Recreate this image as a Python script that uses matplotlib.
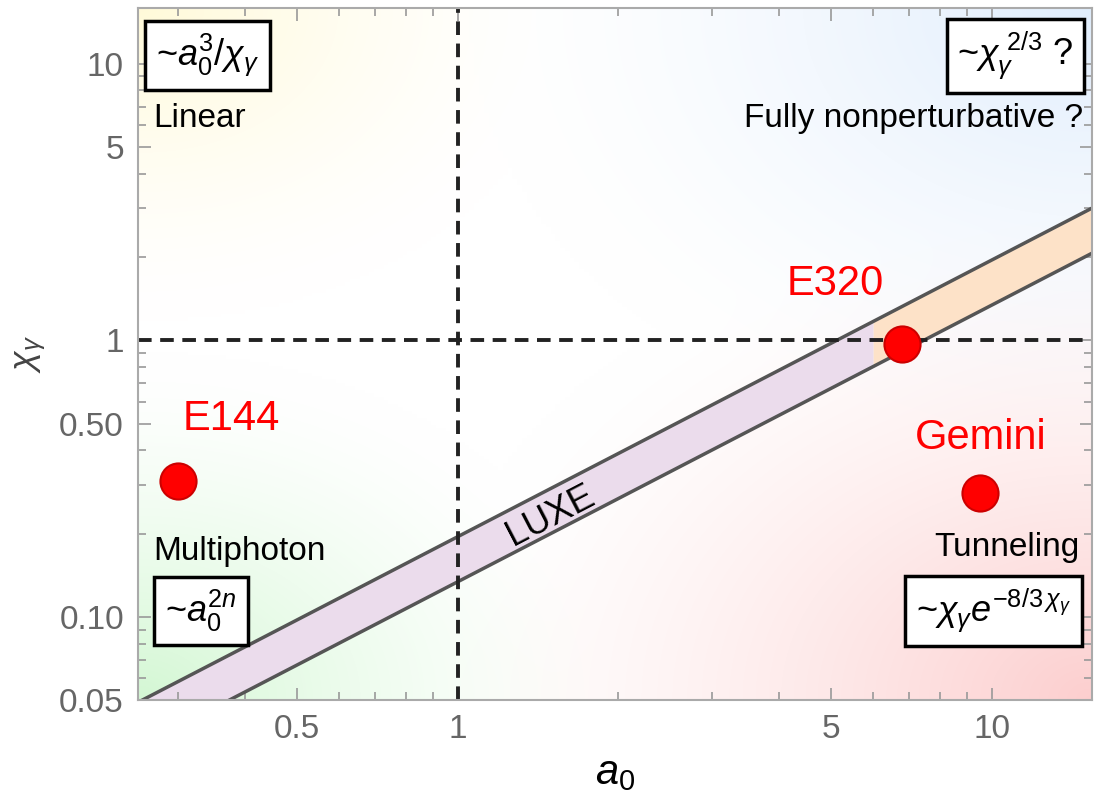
import numpy as np
import matplotlib
matplotlib.use("Agg")
import matplotlib.pyplot as plt
from matplotlib.ticker import FixedLocator, FixedFormatter, LogLocator, NullFormatter

plt.rcParams['font.family'] = ['Liberation Sans', 'DejaVu Sans']
plt.rcParams['mathtext.fontset'] = 'custom'
plt.rcParams['mathtext.rm'] = 'Liberation Sans'
plt.rcParams['mathtext.it'] = 'Liberation Sans:italic'

# experiments (a0, chi_gamma)
exp_names = ["E144", "E320", "Gemini"]
exp_a0 = [0.30, 6.8, 9.5]
exp_chi = [0.31, 0.97, 0.28]

# LUXE band edges
luxe_a0 = [0.2, 6.0, 20.0]
luxe_chi_low = [0.0268, 0.804, 2.68]
luxe_chi_high = [0.039, 1.17, 3.9]
luxe_split = 1  # index where purple -> orange

x_ticks = [0.5, 1, 5, 10]
x_labels = ["0.5", "1", "5", "10"]
y_ticks = [0.05, 0.1, 0.5, 1, 5, 10]
y_labels = ["0.05", "0.10", "0.50", "1", "5", "10"]

fig = plt.figure(figsize=(10.94, 7.94), dpi=100)
ax = fig.add_axes([0.126, 0.118, 0.872, 0.872])
ax.set_xscale("log")
ax.set_yscale("log")
ax.set_xlim(0.252, 15.4)
ax.set_ylim(0.05, 15.9)

# soft corner gradient background
ny, nx = 200, 200
gx, gy = np.meshgrid(np.linspace(0, 1, nx), np.linspace(0, 1, ny))
corners = [((0, 1), (1.0, 0.98, 0.85), 0.45),   # top-left yellow
           ((1, 1), (0.88, 0.93, 0.99), 0.65),  # top-right blue
           ((0, 0), (0.83, 0.97, 0.83), 0.5),   # bottom-left green
           ((1, 0), (0.99, 0.81, 0.81), 0.7)]   # bottom-right red
img = np.ones((ny, nx, 3))
for (cx, cy), col, rad in corners:
    d = np.hypot(gx - cx, gy - cy)
    w = np.clip(1 - d / rad, 0, 1) ** 1.5
    for k in range(3):
        img[:, :, k] -= w * (1 - col[k])
img = np.clip(img, 0, 1)
ax.imshow(img, extent=[0, 1, 0, 1], transform=ax.transAxes, origin="lower",
          aspect="auto", zorder=0, interpolation="bilinear")

# LUXE band
a = np.array(luxe_a0)
lo = np.array(luxe_chi_low)
hi = np.array(luxe_chi_high)
ax.fill_between(a[:luxe_split + 1], lo[:luxe_split + 1], hi[:luxe_split + 1],
                color="#ebdcec", lw=0, zorder=1)
ax.fill_between(a[luxe_split:], lo[luxe_split:], hi[luxe_split:],
                color="#fde2c8", lw=0, zorder=1)
ax.plot(a, lo, color="#555555", lw=2.5, zorder=2)
ax.plot(a, hi, color="#555555", lw=2.5, zorder=2)
ax.text(1.49, 0.232, "LUXE", rotation=27.5, ha="center", va="center",
        fontsize=26, zorder=3)

# dashed regime boundaries
ax.axvline(1, color="#222222", ls=(0, (3.5, 2.2)), lw=2.8, zorder=2)
ax.axhline(1, color="#222222", ls=(0, (3.5, 2.2)), lw=2.8, zorder=2)

# experiment points
ax.plot(exp_a0, exp_chi, "o", ms=26, mfc="#ff0000", mec="#cc0000", mew=1.5,
        zorder=5, ls="none")
offsets = {"E144": (38, 45), "E320": (-48, 43), "Gemini": (1, 40)}
for name, x, y in zip(exp_names, exp_a0, exp_chi):
    ax.annotate(name, (x, y), xytext=offsets[name], textcoords="offset points",
                ha="center", va="center", color="#ff0000", fontsize=30, zorder=6)

# regime labels
box = dict(boxstyle="square,pad=0.3", fc="white", ec="black", lw=2.5)
ax.text(0.073, 0.931, r"~$a_0^3/\chi_\gamma$", transform=ax.transAxes,
        ha="center", va="center", fontsize=26, bbox=box, zorder=4)
ax.text(0.920, 0.931, r"~$\chi_\gamma^{\ 2/3}$ ?", transform=ax.transAxes,
        ha="center", va="center", fontsize=26, bbox=box, zorder=4)
ax.text(0.066, 0.129, r"~$a_0^{2n}$", transform=ax.transAxes,
        ha="center", va="center", fontsize=26, bbox=box, zorder=4)
ax.text(0.897, 0.129, r"~$\chi_\gamma e^{-8/3\,\chi_\gamma}$", transform=ax.transAxes,
        ha="center", va="center", fontsize=26, bbox=box, zorder=4)

ax.text(0.016, 0.841, "Linear", transform=ax.transAxes, ha="left", va="center",
        fontsize=24, zorder=4)
ax.text(0.991, 0.841, "Fully nonperturbative ?", transform=ax.transAxes,
        ha="right", va="center", fontsize=24, zorder=4)
ax.text(0.016, 0.215, "Multiphoton", transform=ax.transAxes, ha="left",
        va="center", fontsize=24, zorder=4)
ax.text(0.987, 0.220, "Tunneling", transform=ax.transAxes, ha="right",
        va="center", fontsize=24, zorder=4)

# axes styling
ax.xaxis.set_major_locator(FixedLocator(x_ticks))
ax.xaxis.set_major_formatter(FixedFormatter(x_labels))
ax.yaxis.set_major_locator(FixedLocator(y_ticks))
ax.yaxis.set_major_formatter(FixedFormatter(y_labels))
ax.xaxis.set_minor_locator(LogLocator(base=10, subs=np.arange(1, 10), numticks=20))
ax.yaxis.set_minor_locator(LogLocator(base=10, subs=np.arange(1, 10), numticks=20))
ax.xaxis.set_minor_formatter(NullFormatter())
ax.yaxis.set_minor_formatter(NullFormatter())
ax.tick_params(which="both", direction="in", top=True, right=True,
               color="#999999", width=1.2, labelcolor="#666666", labelsize=24)
ax.tick_params(which="major", length=9, pad=10)
ax.tick_params(which="minor", length=6)
for s in ax.spines.values():
    s.set_color("#aaaaaa")
    s.set_linewidth(1.5)

ax.set_xlabel(r"$a_0$", fontsize=30, labelpad=6)
ax.set_ylabel(r"$\chi_\gamma$", fontsize=26, color="#444444", labelpad=8)

fig.savefig("out.png", dpi=100)
